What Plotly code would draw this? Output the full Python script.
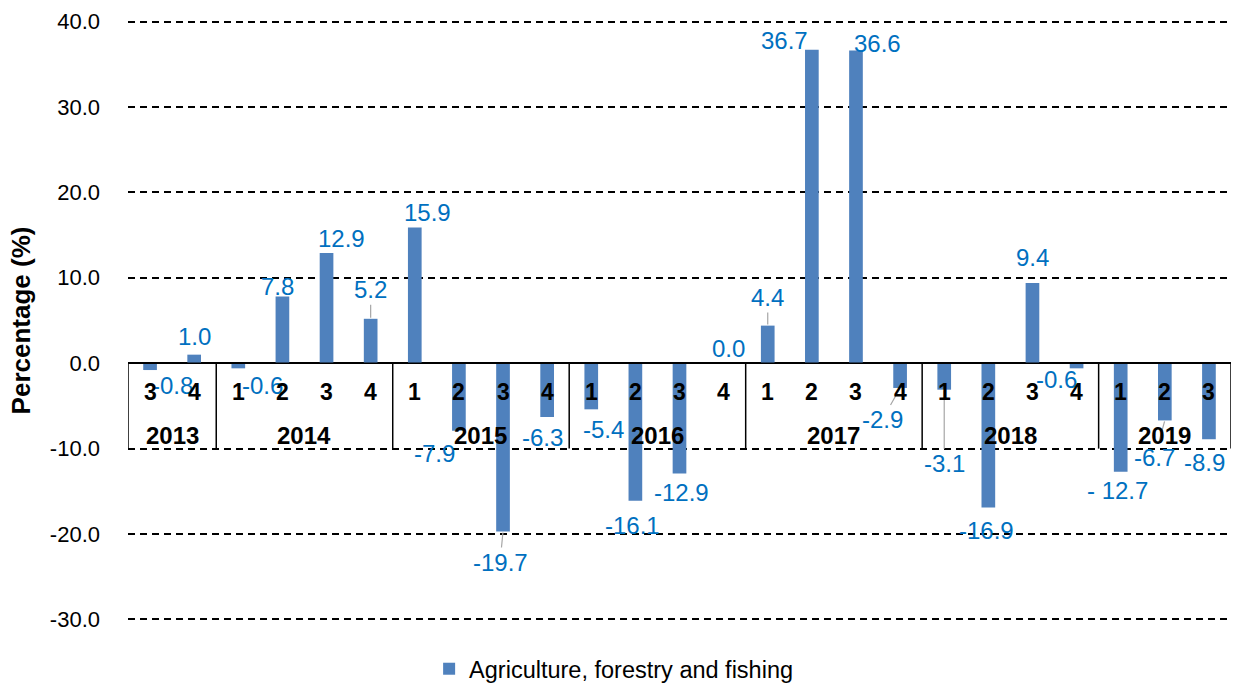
import plotly.graph_objects as go

# ---- data ----
years = ["2013", "2014", "2015", "2016", "2017", "2018", "2019"]
quarters_per_year = [["3", "4"], ["1", "2", "3", "4"], ["1", "2", "3", "4"],
                     ["1", "2", "3", "4"], ["1", "2", "3", "4"], ["1", "2", "3", "4"],
                     ["1", "2", "3"]]
values = [-0.8, 1.0,
          -0.6, 7.8, 12.9, 5.2,
          15.9, -7.9, -19.7, -6.3,
          -5.4, -16.1, -12.9, 0.0,
          4.4, 36.7, 36.6, -2.9,
          -3.1, -16.9, 9.4, -0.6,
          -12.7, -6.7, -8.9]
value_labels = ["-0.8", "1.0",
                "-0.6", "7.8", "12.9", "5.2",
                "15.9", "-7.9", "-19.7", "-6.3",
                "-5.4", "-16.1", "-12.9", "0.0",
                "4.4", "36.7", "36.6", "-2.9",
                "-3.1", "-16.9", "9.4", "-0.6",
                "- 12.7", "-6.7", "-8.9"]
series_name = "Agriculture, forestry and fishing"
y_ticks = [-30, -20, -10, 0, 10, 20, 30, 40]

# ---- label placement (pixel offsets from bar end: dx right, dy down; leader lines flagged) ----
label_offsets = [(22, 15, False), (0, -18, False),
                 (24, 17, False), (-5, -10, False), (15, -15, False), (0, -29, True),
                 (13, -15, False), (-24, 23, False), (-3, 31, True), (-5, 20, False),
                 (12, 20, False), (-3, 25, False), (2, 19, False), (5, -15, False),
                 (0, -28, True), (-27, -9, False), (22, -7, False), (-18, 32, True),
                 (0, 74, True), (-2, 23, False), (0, -25, False), (-20, 11, False),
                 (-3, 19, False), (-10, 37, True), (-4, 23, False)]

FONT = "Liberation Sans, Arial, sans-serif"
BAR_COLOR = "#4F81BD"
LABEL_COLOR = "#0070C0"
LABEL_SIZE = 24

quarter_labels = [q for qs in quarters_per_year for q in qs]
xs = list(range(len(values)))

fig = go.Figure()
fig.add_trace(go.Bar(
    x=xs, y=values, width=0.31, name=series_name,
    marker=dict(color=BAR_COLOR, line=dict(width=0)),
    showlegend=True,
))

annotations = []
# data labels
for x, v, txt, (dx, dy, leader) in zip(xs, values, value_labels, label_offsets):
    if leader:
        annotations.append(dict(
            x=x, y=v, xref="x", yref="y", text=txt, showarrow=True,
            ax=dx, ay=dy, arrowhead=0, arrowwidth=1.2, arrowcolor="#A6A6A6",
            standoff=1, font=dict(family=FONT, size=LABEL_SIZE, color=LABEL_COLOR),
        ))
    else:
        annotations.append(dict(
            x=x, y=v, xref="x", yref="y", text=txt, showarrow=False,
            xshift=dx, yshift=-dy, xanchor="center", yanchor="middle",
            font=dict(family=FONT, size=LABEL_SIZE, color=LABEL_COLOR),
        ))

# quarter labels
for x, q in zip(xs, quarter_labels):
    annotations.append(dict(
        x=x, y=-3.4, xref="x", yref="y", text=f"<b>{q}</b>", showarrow=False,
        xanchor="center", yanchor="middle",
        font=dict(family=FONT, size=23, color="black"),
    ))

# year labels and dividers
shapes = []
start = -0.5
bounds = [start]
for yr, qs in zip(years, quarters_per_year):
    end = start + len(qs)
    annotations.append(dict(
        x=(start + end) / 2, y=-8.45, xref="x", yref="y", text=f"<b>{yr}</b>",
        showarrow=False, xanchor="center", yanchor="middle",
        font=dict(family=FONT, size=24, color="black"),
    ))
    bounds.append(end)
    start = end

for b in bounds:
    shapes.append(dict(type="line", xref="x", yref="y", x0=b, x1=b, y0=0, y1=-10,
                       line=dict(color="black", width=1.5), layer="above"))
shapes.append(dict(type="line", xref="x", yref="y", x0=bounds[0], x1=bounds[-1], y0=0, y1=0,
                   line=dict(color="black", width=1.5), layer="above"))

fig.update_layout(
    width=1234, height=684,
    margin=dict(l=128, r=3, t=19, b=62, autoexpand=False),
    paper_bgcolor="white", plot_bgcolor="white",
    font=dict(family=FONT, size=22, color="black"),
    bargap=0.69,
    xaxis=dict(range=[-0.5, len(values) - 0.5], showticklabels=False, showgrid=False,
               zeroline=False, showline=False, ticks=""),
    yaxis=dict(range=[-30.3, 40.3], tickvals=y_ticks,
               ticktext=[f"{t:.1f}" for t in y_ticks],
               showgrid=True, gridcolor="black", gridwidth=1.5, griddash="7px,5px",
               zeroline=True, zerolinecolor="black", zerolinewidth=1.5,
               showline=False, ticks="", ticklabelstandoff=27,
               tickfont=dict(family=FONT, size=22, color="black"),
               title=dict(text="<b>Percentage (%)</b>", standoff=11,
                          font=dict(family=FONT, size=26, color="black"))),
    legend=dict(orientation="h", x=0.273, xanchor="left",
                yref="container", y=0.022, yanchor="middle",
                font=dict(family=FONT, size=23.5, color="black"),
                bgcolor="rgba(0,0,0,0)", itemwidth=30),
    annotations=annotations,
    shapes=shapes,
)

fig.write_html("out.html")
